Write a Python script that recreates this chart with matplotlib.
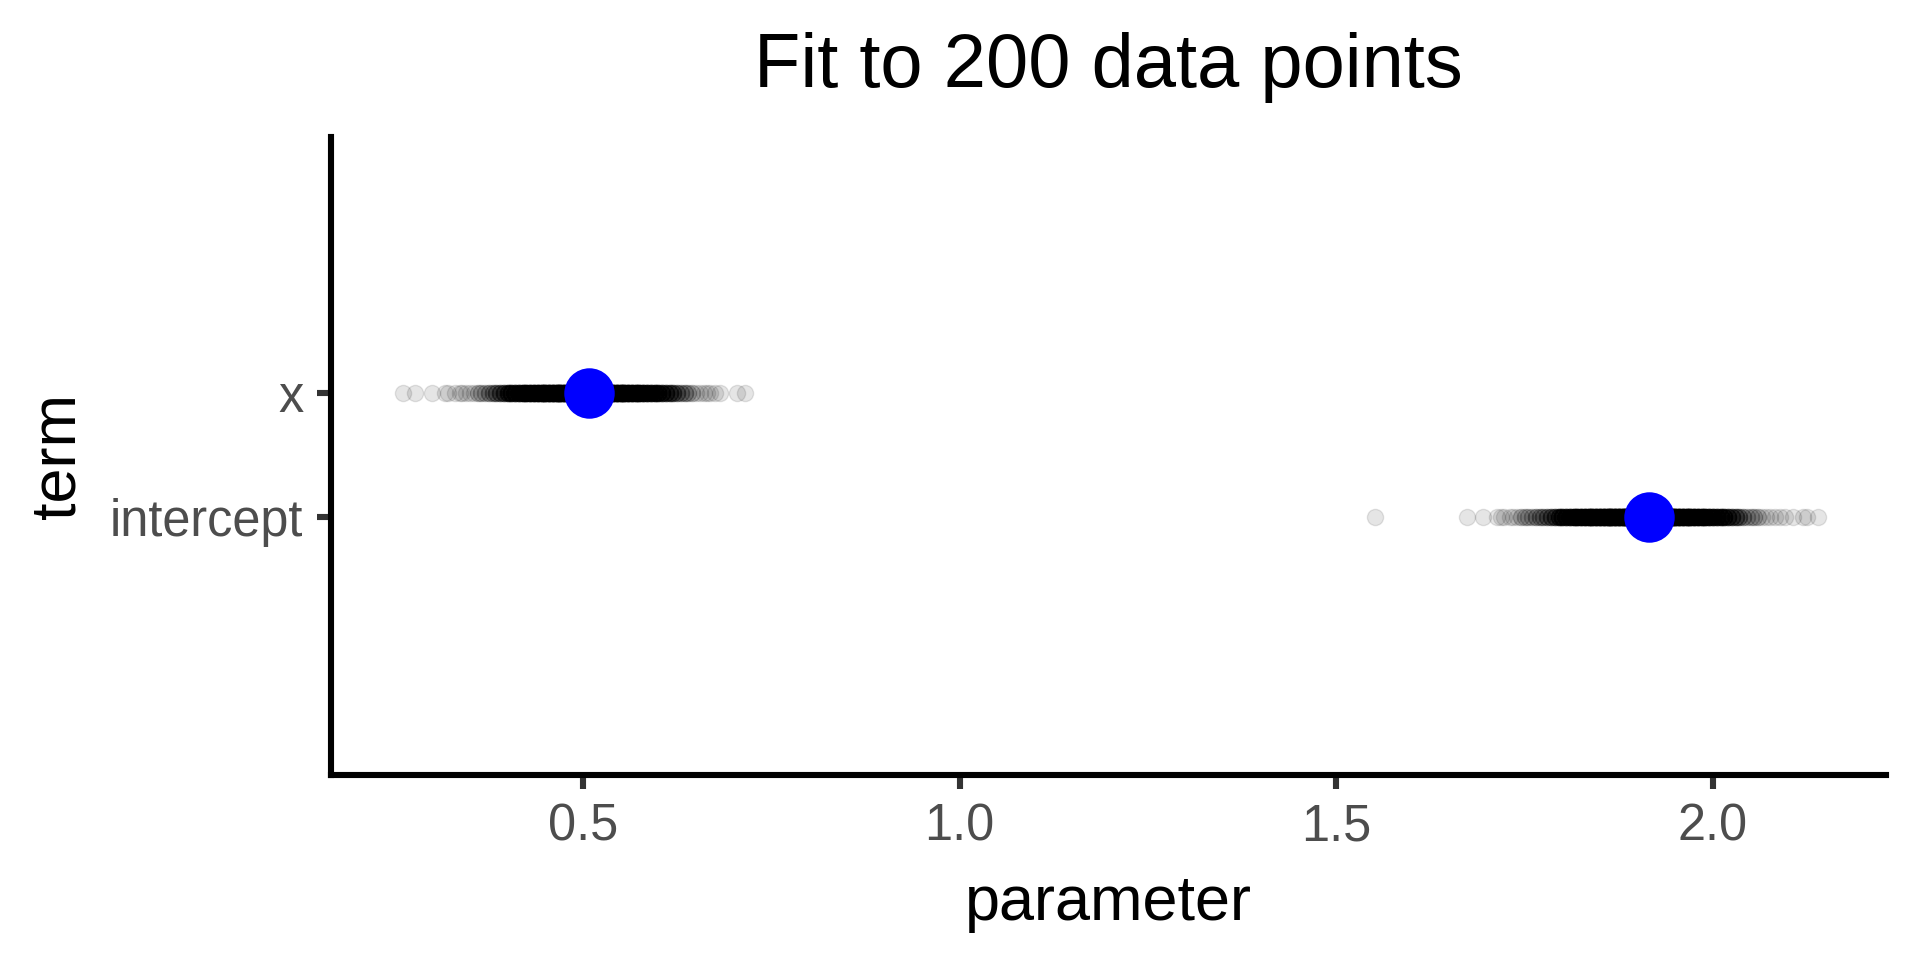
import numpy as np
import matplotlib
matplotlib.use("Agg")
import matplotlib.pyplot as plt

plt.rcParams['font.family'] = ['Liberation Sans', 'DejaVu Sans']

terms = ['intercept', 'x']
estimates = [1.915, 0.508]

# bootstrap fits, x slope: dense core (value, count) plus the sparse tails
x_core_vals = [0.340, 0.345, 0.350, 0.355, 0.360, 0.365, 0.370, 0.375, 0.380, 0.385,
               0.390, 0.395, 0.400, 0.405, 0.410, 0.415, 0.420, 0.425, 0.430, 0.435,
               0.440, 0.445, 0.450, 0.455, 0.460, 0.465, 0.470, 0.475, 0.480, 0.485,
               0.490, 0.495, 0.500, 0.505, 0.510, 0.515, 0.520, 0.525, 0.530, 0.535,
               0.540, 0.545, 0.550, 0.555, 0.560, 0.565, 0.570, 0.575, 0.580, 0.585,
               0.590, 0.595, 0.600, 0.605, 0.610, 0.615, 0.620, 0.625, 0.630, 0.635,
               0.640, 0.645, 0.650, 0.655, 0.660, 0.665]
x_core_counts = [1, 1, 1, 1, 2, 2, 2, 3, 3, 4,
                 5, 6, 8, 9, 10, 11, 12, 13, 14, 15,
                 16, 17, 18, 19, 20, 21, 22, 22, 23, 23,
                 24, 24, 24, 24, 24, 24, 23, 23, 22, 22,
                 21, 20, 19, 18, 17, 16, 15, 14, 13, 12,
                 11, 10, 9, 8, 7, 6, 5, 4, 3, 3,
                 2, 2, 1, 1, 1, 1]
x_tails = [0.261, 0.277, 0.299, 0.317, 0.321, 0.330, 0.337,
           0.669, 0.675, 0.682, 0.704, 0.715]

# bootstrap fits, intercept
i_core_vals = [1.735, 1.740, 1.745, 1.750, 1.755, 1.760, 1.765, 1.770, 1.775, 1.780,
               1.785, 1.790, 1.795, 1.800, 1.805, 1.810, 1.815, 1.820, 1.825, 1.830,
               1.835, 1.840, 1.845, 1.850, 1.855, 1.860, 1.865, 1.870, 1.875, 1.880,
               1.885, 1.890, 1.895, 1.900, 1.905, 1.910, 1.915, 1.920, 1.925, 1.930,
               1.935, 1.940, 1.945, 1.950, 1.955, 1.960, 1.965, 1.970, 1.975, 1.980,
               1.985, 1.990, 1.995, 2.000, 2.005, 2.010, 2.015, 2.020, 2.025, 2.030,
               2.035, 2.040, 2.045, 2.050, 2.055, 2.060, 2.065, 2.070]
i_core_counts = [1, 1, 2, 2, 2, 2, 3, 3, 3, 4,
                 5, 6, 8, 9, 10, 11, 12, 13, 14, 15,
                 16, 17, 18, 19, 20, 21, 22, 22, 23, 23,
                 24, 24, 24, 24, 24, 24, 24, 24, 24, 23,
                 23, 22, 22, 21, 20, 19, 18, 17, 16, 15,
                 14, 13, 12, 11, 10, 9, 8, 7, 6, 5,
                 4, 3, 2, 2, 2, 2, 1, 1]
i_tails = [1.551, 1.673, 1.695, 1.713, 1.718, 1.722, 1.731,
           2.076, 2.082, 2.089, 2.096, 2.106, 2.119, 2.125, 2.139]

x_boot = np.concatenate([np.repeat(x_core_vals, x_core_counts), x_tails])
i_boot = np.concatenate([np.repeat(i_core_vals, i_core_counts), i_tails])

fig = plt.figure(figsize=(9.6, 4.8), dpi=200)
ax = fig.add_axes([0.1724, 0.1927, 0.8099, 0.6643])

ax.scatter(i_boot, np.full(len(i_boot), 1), s=34, color='black', alpha=0.1,
           linewidths=0.5, zorder=2)
ax.scatter(x_boot, np.full(len(x_boot), 2), s=34, color='black', alpha=0.1,
           linewidths=0.5, zorder=2)
ax.scatter(estimates, [1, 2], s=330, color='blue', linewidths=0, zorder=3)

ax.set_xlim(0.1655, 2.2297)
ax.set_ylim(-1.08, 4.065)
ax.set_xticks([0.5, 1.0, 1.5, 2.0])
ax.set_xticklabels(['0.5', '1.0', '1.5', '2.0'])
ax.set_yticks([1, 2])
ax.set_yticklabels(terms)

for side in ['top', 'right']:
    ax.spines[side].set_visible(False)
for side in ['left', 'bottom']:
    ax.spines[side].set_linewidth(2.2)
    ax.spines[side].set_color('black')
ax.tick_params(axis='both', length=5, width=2.2, color='#333333',
               labelsize=18.2, labelcolor='#4D4D4D', pad=5)

ax.set_xlabel('parameter', fontsize=22.7, labelpad=8)
ax.set_ylabel('term', fontsize=22.7, labelpad=8)
ax.set_title('Fit to 200 data points', fontsize=27.3, pad=18)

fig.savefig('out.png', dpi=200)
